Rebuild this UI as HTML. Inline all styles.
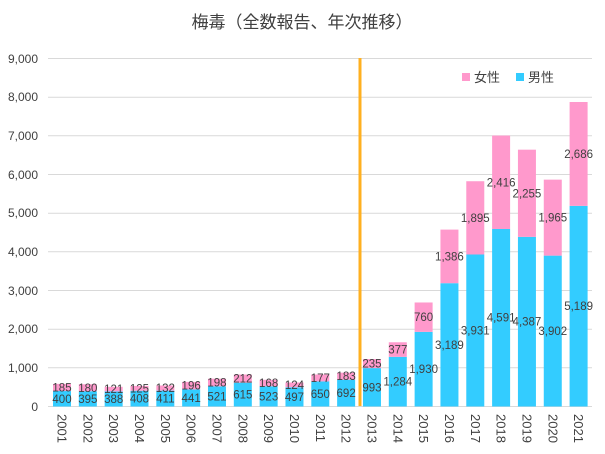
<!DOCTYPE html><html><head><meta charset="utf-8"><style>body{margin:0;background:#fff}svg{display:block}text{font-family:"Liberation Sans","Noto Sans CJK JP",sans-serif}</style></head><body>
<svg width="605" height="454" xmlns="http://www.w3.org/2000/svg">
<rect width="605" height="454" fill="#fff"/>
<text x="302" y="28" font-size="17" text-anchor="middle" fill="#404040">梅毒（全数報告、年次推移）</text>
<g stroke="#d9d9d9" stroke-width="1">
<line x1="48" x2="592" y1="406.5" y2="406.5"/><line x1="48" x2="592" y1="367.8" y2="367.8"/><line x1="48" x2="592" y1="329.2" y2="329.2"/><line x1="48" x2="592" y1="290.5" y2="290.5"/><line x1="48" x2="592" y1="251.8" y2="251.8"/><line x1="48" x2="592" y1="213.2" y2="213.2"/><line x1="48" x2="592" y1="174.5" y2="174.5"/><line x1="48" x2="592" y1="135.8" y2="135.8"/><line x1="48" x2="592" y1="97.2" y2="97.2"/><line x1="48" x2="592" y1="58.5" y2="58.5"/>
</g>
<g font-size="12" fill="#404040" text-anchor="end">
<text x="38" y="411">0</text><text x="38" y="372">1,000</text><text x="38" y="333">2,000</text><text x="38" y="295">3,000</text><text x="38" y="256">4,000</text><text x="38" y="217">5,000</text><text x="38" y="179">6,000</text><text x="38" y="140">7,000</text><text x="38" y="101">8,000</text><text x="38" y="63">9,000</text>
</g>
<g fill="#33ccff">
<rect x="53" y="391.03" width="18" height="15.47"/>
<rect x="78.83" y="391.23" width="18" height="15.27"/>
<rect x="104.66" y="391.5" width="18" height="15"/>
<rect x="130.49" y="390.72" width="18" height="15.78"/>
<rect x="156.32" y="390.61" width="18" height="15.89"/>
<rect x="182.15" y="389.45" width="18" height="17.05"/>
<rect x="207.98" y="386.35" width="18" height="20.15"/>
<rect x="233.81" y="382.72" width="18" height="23.78"/>
<rect x="259.64" y="386.28" width="18" height="20.22"/>
<rect x="285.47" y="387.28" width="18" height="19.22"/>
<rect x="311.3" y="381.37" width="18" height="25.13"/>
<rect x="337.13" y="379.74" width="18" height="26.76"/>
<rect x="362.96" y="368.1" width="18" height="38.4"/>
<rect x="388.79" y="356.85" width="18" height="49.65"/>
<rect x="414.62" y="331.87" width="18" height="74.63"/>
<rect x="440.45" y="283.19" width="18" height="123.31"/>
<rect x="466.28" y="254.5" width="18" height="152"/>
<rect x="492.11" y="228.98" width="18" height="177.52"/>
<rect x="517.94" y="236.87" width="18" height="169.63"/>
<rect x="543.77" y="255.62" width="18" height="150.88"/>
<rect x="569.6" y="205.86" width="18" height="200.64"/>
</g>
<g fill="#ff99cc">
<rect x="53" y="383.88" width="18" height="7.15"/>
<rect x="78.83" y="384.27" width="18" height="6.96"/>
<rect x="104.66" y="386.82" width="18" height="4.68"/>
<rect x="130.49" y="385.89" width="18" height="4.83"/>
<rect x="156.32" y="385.51" width="18" height="5.1"/>
<rect x="182.15" y="381.87" width="18" height="7.58"/>
<rect x="207.98" y="378.69" width="18" height="7.66"/>
<rect x="233.81" y="374.52" width="18" height="8.2"/>
<rect x="259.64" y="379.78" width="18" height="6.5"/>
<rect x="285.47" y="382.49" width="18" height="4.79"/>
<rect x="311.3" y="374.53" width="18" height="6.84"/>
<rect x="337.13" y="372.66" width="18" height="7.08"/>
<rect x="362.96" y="359.01" width="18" height="9.09"/>
<rect x="388.79" y="342.27" width="18" height="14.58"/>
<rect x="414.62" y="302.48" width="18" height="29.39"/>
<rect x="440.45" y="229.6" width="18" height="53.59"/>
<rect x="466.28" y="181.23" width="18" height="73.27"/>
<rect x="492.11" y="135.56" width="18" height="93.42"/>
<rect x="517.94" y="149.68" width="18" height="87.19"/>
<rect x="543.77" y="179.64" width="18" height="75.98"/>
<rect x="569.6" y="102" width="18" height="103.86"/>
</g>
<g font-size="11.5" text-anchor="middle" fill="#404040">
<text x="62" y="402.8">400</text><text x="62" y="391.5">185</text>
<text x="87.83" y="402.9">395</text><text x="87.83" y="391.8">180</text>
<text x="113.66" y="403">388</text><text x="113.66" y="393.2">121</text>
<text x="139.49" y="402.6">408</text><text x="139.49" y="392.3">125</text>
<text x="165.32" y="402.6">411</text><text x="165.32" y="392.1">132</text>
<text x="191.15" y="402">441</text><text x="191.15" y="389.7">196</text>
<text x="216.98" y="400.4">521</text><text x="216.98" y="386.5">198</text>
<text x="242.81" y="398.6">615</text><text x="242.81" y="382.6">212</text>
<text x="268.64" y="400.4">523</text><text x="268.64" y="387">168</text>
<text x="294.47" y="400.9">497</text><text x="294.47" y="388.9">124</text>
<text x="320.3" y="397.9">650</text><text x="320.3" y="382">177</text>
<text x="346.13" y="397.1">692</text><text x="346.13" y="380.2">183</text>
<text x="371.96" y="391.3">993</text><text x="371.96" y="367.6">235</text>
<text x="397.79" y="385.7">1,284</text><text x="397.79" y="353.6">377</text>
<text x="423.62" y="373.2">1,930</text><text x="423.62" y="321.2">760</text>
<text x="449.45" y="348.8">3,189</text><text x="449.45" y="260.4">1,386</text>
<text x="475.28" y="334.5">3,931</text><text x="475.28" y="221.9">1,895</text>
<text x="501.11" y="321.7">4,591</text><text x="501.11" y="186.3">2,416</text>
<text x="526.94" y="325.7">4,387</text><text x="526.94" y="197.3">2,255</text>
<text x="552.77" y="335.1">3,902</text><text x="552.77" y="221.6">1,965</text>
<text x="578.6" y="310.2">5,189</text><text x="578.6" y="157.9">2,686</text>
</g>
<g font-size="13" fill="#404040">
<text transform="translate(57.5,414) rotate(90)">2001</text>
<text transform="translate(83.33,414) rotate(90)">2002</text>
<text transform="translate(109.16,414) rotate(90)">2003</text>
<text transform="translate(134.99,414) rotate(90)">2004</text>
<text transform="translate(160.82,414) rotate(90)">2005</text>
<text transform="translate(186.65,414) rotate(90)">2006</text>
<text transform="translate(212.48,414) rotate(90)">2007</text>
<text transform="translate(238.31,414) rotate(90)">2008</text>
<text transform="translate(264.14,414) rotate(90)">2009</text>
<text transform="translate(289.97,414) rotate(90)">2010</text>
<text transform="translate(315.8,414) rotate(90)">2011</text>
<text transform="translate(341.63,414) rotate(90)">2012</text>
<text transform="translate(367.46,414) rotate(90)">2013</text>
<text transform="translate(393.29,414) rotate(90)">2014</text>
<text transform="translate(419.12,414) rotate(90)">2015</text>
<text transform="translate(444.95,414) rotate(90)">2016</text>
<text transform="translate(470.78,414) rotate(90)">2017</text>
<text transform="translate(496.61,414) rotate(90)">2018</text>
<text transform="translate(522.44,414) rotate(90)">2019</text>
<text transform="translate(548.27,414) rotate(90)">2020</text>
<text transform="translate(574.1,414) rotate(90)">2021</text>
</g>
<line x1="360" x2="360" y1="58" y2="406" stroke="#ffb020" stroke-width="3"/>
<rect x="462" y="73" width="8" height="8" fill="#ff99cc"/><text x="474" y="82" font-size="13" fill="#404040">女性</text>
<rect x="516" y="73" width="8" height="8" fill="#33ccff"/><text x="528" y="82" font-size="13" fill="#404040">男性</text>
</svg></body></html>
